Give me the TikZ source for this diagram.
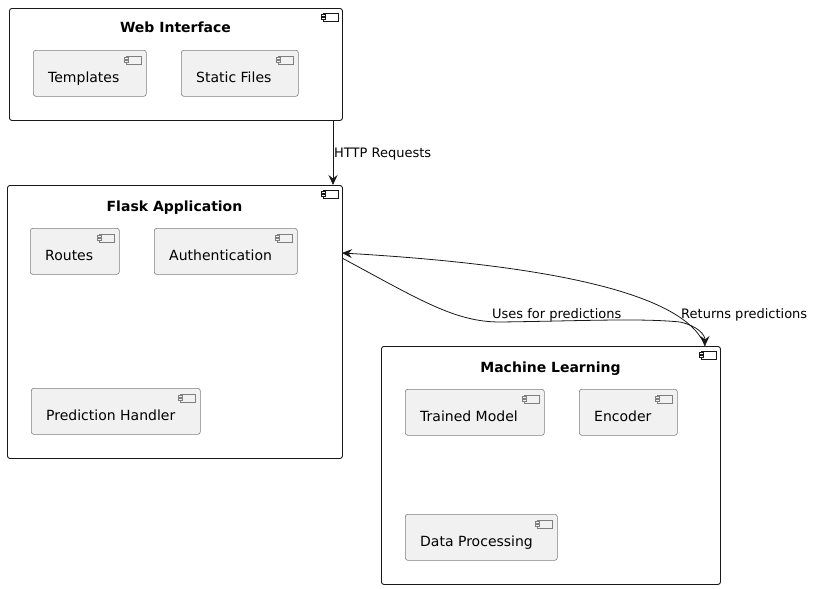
\documentclass[tikz,border=0pt]{standalone}
\usepackage{fontspec}
\setmainfont{DejaVu Sans}
\usetikzlibrary{arrows.meta}
\definecolor{edge}{HTML}{181818}
\definecolor{compfill}{HTML}{F1F1F1}
\definecolor{compline}{HTML}{7F7F7F}
\tikzset{
  outerbox/.style={draw=edge, line width=0.9pt, fill=white, rounded corners=2.5pt, inner sep=0pt, anchor=north west},
  innerbox/.style={draw=compline, line width=0.6pt, fill=compfill, rounded corners=2.5pt, inner sep=0pt, anchor=north west},
  titletext/.style={font=\fontsize{14}{16}\selectfont\bfseries, anchor=base, inner sep=0pt},
  comptext/.style={font=\fontsize{14}{16}\selectfont, anchor=base west, inner sep=0pt},
  labeltext/.style={font=\fontsize{13}{15}\selectfont, anchor=base west, inner sep=0pt, text=black},
  conn/.style={draw=edge, line width=0.8pt, -{Stealth[length=10pt,width=9pt,inset=3.5pt]}},
}
% icon at the top right corner of a box: #1 = right x, #2 = top y, #3 = fill, #4 = line
\newcommand{\compicon}[4]{%
  \draw[draw=#4, line width=0.5pt, fill=#3] (#1-20,#2+6) rectangle (#1-5,#2+14);
  \draw[draw=#4, line width=0.5pt, fill=#3] (#1-22,#2+7.5) rectangle (#1-18,#2+9.5);
  \draw[draw=#4, line width=0.5pt, fill=#3] (#1-22,#2+10.5) rectangle (#1-18,#2+12.5);
}
% inner component: #1 name, #2 x, #3 y, #4 width, #5 text
\newcommand{\innercomp}[5]{%
  \node[innerbox, minimum width=#4pt, minimum height=46pt] (#1) at (#2,#3) {};
  \node[comptext] (#1-t) at (#2+15,#3+32) {#5};
  \compicon{#2+#4}{#3}{compfill}{compline}
}
\begin{document}
\begin{tikzpicture}[x=1pt,y=-1pt]
\useasboundingbox (0,0) rectangle (815,589);

% Web Interface
\node[outerbox, minimum width=333pt, minimum height=112pt] (web) at (9,8) {};
\node[titletext] (web-t) at (175.5,32) {Web Interface};
\compicon{343}{7}{white}{edge}
\innercomp{templates}{33}{50}{113}{Templates}
\innercomp{static}{181}{50}{117}{Static Files}

% Flask Application
\node[outerbox, minimum width=335pt, minimum height=273pt] (flask) at (7,185) {};
\node[titletext] (flask-t) at (174.5,211) {Flask Application};
\compicon{343}{184}{white}{edge}
\innercomp{routes}{30}{228}{89}{Routes}
\innercomp{auth}{154}{228}{143}{Authentication}
\innercomp{handler}{31}{388}{169}{Prediction Handler}

% Machine Learning
\node[outerbox, minimum width=339pt, minimum height=238pt] (ml) at (381,346) {};
\node[titletext] (ml-t) at (550.5,372) {Machine Learning};
\compicon{721}{345}{white}{edge}
\innercomp{model}{405}{389}{139}{Trained Model}
\innercomp{encoder}{579}{389}{98}{Encoder}
\innercomp{dataproc}{405}{514}{152}{Data Processing}

% connection points
\coordinate (webout) at (333,120);
\coordinate (flaskin) at (333,185);
\coordinate (flaskout) at (342,258);
\coordinate (flaskret) at (342,253);
\coordinate (mlin) at (705,346);

% connectors
\draw[conn] (webout) -- (flaskin);
\node[labeltext] (httplbl) at (334,157) {HTTP Requests};

\draw[conn] (flaskout) .. controls (420,300) and (455,322) .. (500,322)
  .. controls (580,321) and (640,318) .. (680,322)
  .. controls (698,326) and (705,335) .. (mlin);
\node[labeltext] (useslbl) at (492,318) {Uses for predictions};

\draw[conn] (mlin) .. controls (690,305) and (600,268) .. (flaskret);
\node[labeltext] (retlbl) at (681,318) {Returns predictions};
\end{tikzpicture}
\end{document}
